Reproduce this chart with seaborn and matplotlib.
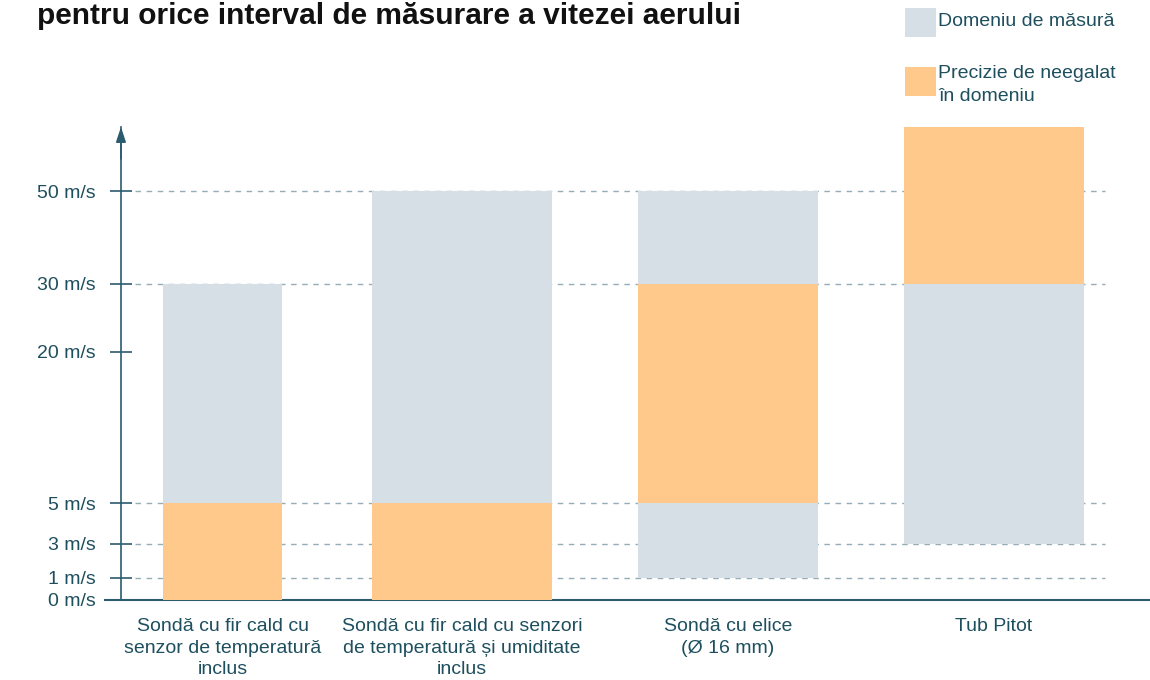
import numpy as np
import seaborn as sns
import matplotlib.pyplot as plt
from matplotlib.patches import Rectangle

# sonde si domeniile lor (m/s)
probes = ["Sondă cu fir cald cu\nsenzor de temperatură\ninclus",
          "Sondă cu fir cald cu senzori\nde temperatură și umiditate\ninclus",
          "Sondă cu elice\n(Ø 16 mm)",
          "Tub Pitot"]
range_low = [5, 5, 1, 3]          # domeniu de masura - inceput
range_high = [30, 50, 50, 30]     # domeniu de masura - sfarsit
prec_low = [0, 0, 5, 30]          # precizie - inceput
prec_high = [5, 5, 30, 60]        # precizie - sfarsit
ticks = [0, 1, 3, 5, 20, 30, 50]
tick_labels = ["0 m/s", "1 m/s", "3 m/s", "5 m/s", "20 m/s", "30 m/s", "50 m/s"]
grid_vals = [1, 3, 5, 30, 50]

# pozitii pe axa (layout)
x_pos = [0.10, 1, 2, 3]
widths = [0.45, 0.677, 0.677, 0.677]

# scara neliniara a axei y
scale_v = [0, 1, 3, 5, 20, 30, 50, 60]
scale_p = [0, 22, 56, 97, 248, 316, 409, 473]

def fwd(v):
    return np.interp(v, scale_v, scale_p)

def inv(p):
    return np.interp(p, scale_p, scale_v)

GREY = "#D5DFE5"
ORANGE = "#FFC98B"
TEXT = "#1E4F5F"
AXIS = "#2B5B6E"

sns.set_style("white")
plt.rcParams['font.family'] = ['Liberation Sans', 'DejaVu Sans']

fig = plt.figure(figsize=(11.5, 6.8), dpi=100)
ax = fig.add_axes([105 / 1150, 80 / 680, 1045 / 1150, 473 / 680])
ax.set_yscale('function', functions=(fwd, inv))
ax.set_ylim(0, 60)
ax.set_xlim(-0.342, 3.586)

# bare: domeniu de masura
ax.bar(x_pos, np.array(range_high) - np.array(range_low), bottom=range_low,
       width=widths, color=GREY, linewidth=0, zorder=2)
# bare: precizie
ax.bar(x_pos, np.array(prec_high) - np.array(prec_low), bottom=prec_low,
       width=widths, color=ORANGE, linewidth=0, zorder=3)

# linii punctate
ax.hlines(grid_vals, -0.229, 3.417, colors="#94ADB7", linestyles=(0, (4, 4)),
          linewidth=1, zorder=1)

# axe
for s in ['top', 'right']:
    ax.spines[s].set_visible(False)
ax.spines['left'].set_position(('data', -0.282))
ax.spines['left'].set_color(AXIS)
ax.spines['left'].set_linewidth(1.2)
ax.spines['bottom'].set_color(AXIS)
ax.spines['bottom'].set_linewidth(1.5)
ax.annotate("", xy=(-0.282, 61), xytext=(-0.282, 55),
            arrowprops=dict(arrowstyle="-|>,head_length=0.9,head_width=0.3",
                            color=AXIS, lw=1.2, shrinkA=0, shrinkB=0),
            annotation_clip=False)

ax.set_yticks(ticks, tick_labels)
ax.tick_params(axis='y', left=True, direction='inout', length=16, width=1.2,
               color=AXIS, labelsize=14, labelcolor=TEXT, pad=10.5)
ax.set_xticks(x_pos, probes)
ax.tick_params(axis='x', bottom=False, length=0, labelsize=14, labelcolor=TEXT, pad=13)
for lab in ax.get_xticklabels():
    lab.set_linespacing(1.35)

# titlu
fig.text(37 / 1150, 1 - 24 / 680, "pentru orice interval de măsurare a vitezei aerului",
         fontsize=21.5, fontweight='bold', color="#111111", va='baseline')

# legenda
fig.add_artist(Rectangle((905 / 1150, 1 - 37 / 680), 31 / 1150, 29 / 680,
                         transform=fig.transFigure, color=GREY, linewidth=0))
fig.add_artist(Rectangle((905 / 1150, 1 - 96 / 680), 31 / 1150, 29 / 680,
                         transform=fig.transFigure, color=ORANGE, linewidth=0))
fig.text(938 / 1150, 1 - 22 / 680, "Domeniu de măsură", fontsize=14,
         color=TEXT, va='center')
fig.text(938 / 1150, 1 - 85 / 680, "Precizie de neegalat\nîn domeniu", fontsize=14,
         color=TEXT, va='center', linespacing=1.4)

fig.savefig("out.png", dpi=100)
